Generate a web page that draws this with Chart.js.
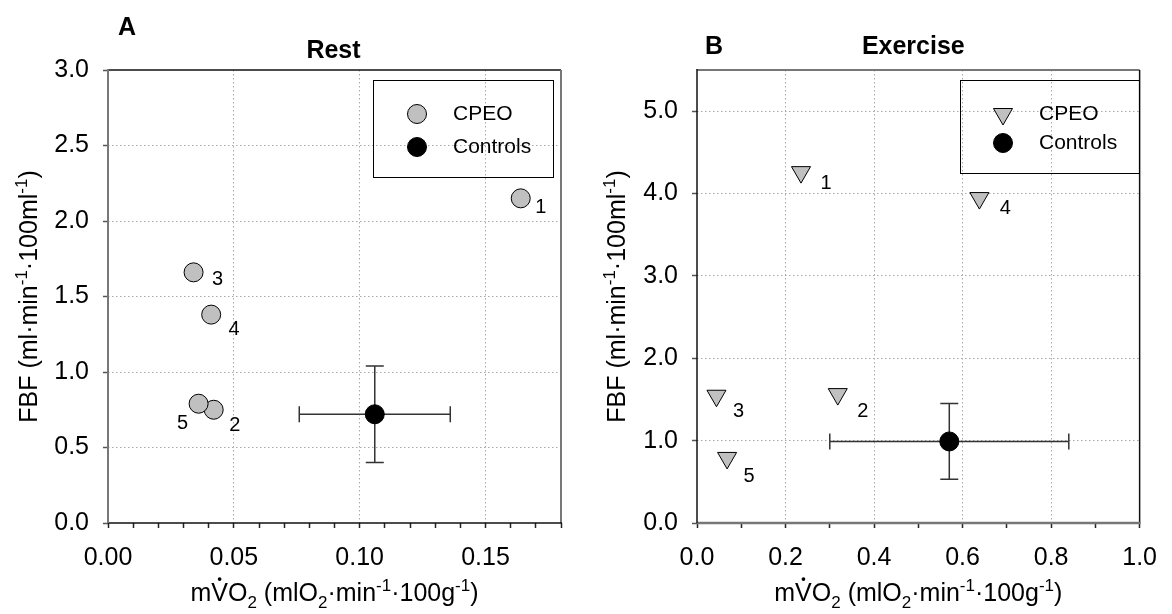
<!DOCTYPE html>
<html>
<head>
<meta charset="utf-8">
<script src="https://cdn.jsdelivr.net/npm/chart.js@4.4.0/dist/chart.umd.min.js"></script>
<style>
  html, body { margin: 0; padding: 0; background: #fff; }
  #wrap { position: relative; width: 1172px; height: 614px; }
  .pane { position: absolute; top: 0; width: 586px; height: 614px; }
</style>
</head>
<body>
<div id="wrap">
  <div class="pane" style="left:0"><canvas id="rest" width="586" height="614"></canvas></div>
  <div class="pane" style="left:586px"><canvas id="exercise" width="586" height="614"></canvas></div>
</div>
<script>
const FONT = '"Liberation Sans", Arial, Helvetica, sans-serif';

// CPEO patients 1..5
const patientIds = ['1', '2', '3', '4', '5'];
const restVO2 = [0.164, 0.042, 0.034, 0.041, 0.036];
const restFBF = [2.15, 0.75, 1.66, 1.38, 0.79];
const exVO2 = [0.235, 0.318, 0.044, 0.638, 0.068];
const exFBF = [4.26, 1.565, 1.545, 3.945, 0.79];

// controls: mean and error (x = mVO2, y = FBF)
const ctlRest = [0.106, 0.72];
const ctlRestErr = [0.030, 0.32];
const ctlEx = [0.57, 0.99];
const ctlExErr = [0.27, 0.46];

// axis ranges
const restXRange = [0, 0.18], restYRange = [0, 3.0];
const exXRange = [0, 1.0], exYRange = [0, 5.5];

// label placement next to each patient marker (pixels)
const restLabelOffsets = [[20, 9], [21, 16], [24, 7], [23, 15], [-16, 20]];
const exLabelOffsets = [[25, 11], [25, 17], [22, 16], [26, 10], [22, 19]];

const xTitle = [{t: 'm'}, {t: 'V', dot: true}, {t: 'O'}, {t: '2', sub: true}, {t: ' (mlO'}, {t: '2', sub: true},
  {t: '\u00b7min'}, {t: '-1', sup: true}, {t: '\u00b7100g'}, {t: '-1', sup: true}, {t: ')'}];
const yTitle = [{t: 'FBF (ml\u00b7min'}, {t: '-1', sup: true}, {t: '\u00b7100ml'}, {t: '-1', sup: true}, {t: ')'}];

function drawRich(ctx, parts, cx, cy, size, rotate) {
  const small = Math.round(size * 0.68);
  ctx.save();
  ctx.translate(cx, cy);
  if (rotate) ctx.rotate(-Math.PI / 2);
  let w = 0;
  parts.forEach(p => {
    ctx.font = (p.sub || p.sup ? small : size) + 'px ' + FONT;
    w += ctx.measureText(p.t).width;
  });
  let x = -w / 2;
  ctx.fillStyle = '#000';
  ctx.textAlign = 'left';
  ctx.textBaseline = 'alphabetic';
  parts.forEach(p => {
    const sz = p.sub || p.sup ? small : size;
    ctx.font = sz + 'px ' + FONT;
    const dy = p.sub ? size * 0.28 : (p.sup ? -size * 0.42 : 0);
    ctx.fillText(p.t, x, dy);
    const tw = ctx.measureText(p.t).width;
    if (p.dot) {
      ctx.beginPath();
      ctx.arc(x + tw / 2, -size * 0.88, size * 0.075, 0, Math.PI * 2);
      ctx.fill();
    }
    x += tw;
  });
  ctx.restore();
}

function marker(ctx, style, x, y, r, fill) {
  ctx.beginPath();
  if (style === 'triangle') {
    // pointing down
    for (let k = 0; k < 3; k++) {
      const a = Math.PI + k * 2 * Math.PI / 3;
      const px = x + Math.sin(a) * r, py = y - Math.cos(a) * r;
      if (k === 0) ctx.moveTo(px, py); else ctx.lineTo(px, py);
    }
    ctx.closePath();
  } else {
    ctx.arc(x, y, r, 0, Math.PI * 2);
  }
  ctx.fillStyle = fill;
  ctx.fill();
  ctx.lineWidth = 1;
  ctx.strokeStyle = '#000';
  ctx.stroke();
}

function makePanel(id, cfg) {
  const isMajor = v => Math.abs(v / cfg.xMajor - Math.round(v / cfg.xMajor)) < 1e-6;

  const decor = {
    id: 'decor_' + id,
    beforeDatasetsDraw(chart) {
      const {ctx, scales: {x, y}} = chart;
      const cx = x.getPixelForValue(cfg.ctl[0]), cy = y.getPixelForValue(cfg.ctl[1]);
      const x0 = x.getPixelForValue(cfg.ctl[0] - cfg.ctlErr[0]), x1 = x.getPixelForValue(cfg.ctl[0] + cfg.ctlErr[0]);
      const y0 = y.getPixelForValue(cfg.ctl[1] - cfg.ctlErr[1]), y1 = y.getPixelForValue(cfg.ctl[1] + cfg.ctlErr[1]);
      ctx.save();
      ctx.strokeStyle = '#333';
      ctx.lineWidth = 1.5;
      ctx.beginPath();
      ctx.moveTo(x0, cy); ctx.lineTo(x1, cy);
      ctx.moveTo(x0, cy - 8); ctx.lineTo(x0, cy + 8);
      ctx.moveTo(x1, cy - 8); ctx.lineTo(x1, cy + 8);
      ctx.moveTo(cx, y0); ctx.lineTo(cx, y1);
      ctx.moveTo(cx - 9, y0); ctx.lineTo(cx + 9, y0);
      ctx.moveTo(cx - 9, y1); ctx.lineTo(cx + 9, y1);
      ctx.stroke();
      ctx.restore();
    },
    afterDraw(chart) {
      const {ctx, chartArea: a} = chart;
      ctx.save();
      // frame
      const side = (x1, y1, x2, y2, c, w) => {
        ctx.beginPath(); ctx.strokeStyle = c; ctx.lineWidth = w;
        ctx.moveTo(x1, y1); ctx.lineTo(x2, y2); ctx.stroke();
      };
      const f = cfg.frame;
      side(a.left, a.top, a.right, a.top, f.top[0], f.top[1]);
      side(a.right, a.top, a.right, a.bottom, f.right[0], f.right[1]);
      side(a.left, a.bottom, a.right + 1, a.bottom, f.bottom[0], f.bottom[1]);
      side(a.left, a.top - 1, a.left, a.bottom, f.left[0], f.left[1]);

      // panel title and letter
      ctx.fillStyle = '#000';
      ctx.textAlign = 'center';
      ctx.textBaseline = 'middle';
      ctx.font = 'bold 25px ' + FONT;
      ctx.fillText(cfg.title, (a.left + a.right) / 2 + cfg.titleDx, cfg.titleY);
      ctx.font = 'bold 25px ' + FONT;
      ctx.fillText(cfg.letter, cfg.letterPos[0], cfg.letterPos[1]);

      // axis titles
      drawRich(ctx, xTitle, (a.left + a.right) / 2, 601, 25, false);
      drawRich(ctx, yTitle, cfg.yTitleX, (a.top + a.bottom) / 2, 25, true);

      // patient numbers
      const meta = chart.getDatasetMeta(0);
      ctx.font = '20px ' + FONT;
      ctx.textAlign = 'center';
      ctx.textBaseline = 'middle';
      ctx.fillStyle = '#000';
      meta.data.forEach((pt, i) => {
        ctx.fillText(patientIds[i], pt.x + cfg.labelOffsets[i][0], pt.y + cfg.labelOffsets[i][1]);
      });

      // legend
      const L = cfg.legend;
      ctx.lineWidth = 1;
      ctx.strokeStyle = '#000';
      ctx.strokeRect(L.box[0] + 0.5, L.box[1] + 0.5, L.box[2], L.box[3]);
      marker(ctx, cfg.marker, L.mx, L.rows[0], cfg.markerR, '#c0c0c0');
      marker(ctx, 'circle', L.mx, L.rows[1], 9.5, '#000');
      ctx.font = '21px ' + FONT;
      ctx.textAlign = 'left';
      ctx.fillStyle = '#000';
      chart.data.datasets.forEach((ds, i) => ctx.fillText(ds.label, L.tx, L.rows[i]));
      ctx.restore();
    }
  };

  return new Chart(document.getElementById(id), {
    type: 'scatter',
    data: {
      datasets: [
        {
          label: 'CPEO',
          data: cfg.xs.map((v, i) => ({x: v, y: cfg.ys[i]})),
          pointStyle: cfg.marker,
          rotation: cfg.marker === 'triangle' ? 180 : 0,
          pointRadius: cfg.markerR,
          backgroundColor: '#c0c0c0',
          borderColor: '#000',
          borderWidth: 1
        },
        {
          label: 'Controls',
          data: [{x: cfg.ctl[0], y: cfg.ctl[1]}],
          pointStyle: 'circle',
          pointRadius: 9.5,
          backgroundColor: '#000',
          borderColor: '#000',
          borderWidth: 1
        }
      ]
    },
    options: {
      responsive: false,
      animation: false,
      events: [],
      layout: {padding: {top: 70, right: cfg.padRight, left: 0, bottom: 0}},
      plugins: {legend: {display: false}, tooltip: {enabled: false}},
      scales: {
        x: {
          type: 'linear',
          min: cfg.xRange[0], max: cfg.xRange[1],
          afterFit: s => { s.height = 91; },
          ticks: {
            stepSize: cfg.xMinor,
            autoSkip: false,
            maxRotation: 0,
            includeBounds: false,
            padding: 15,
            color: '#000',
            font: {family: FONT, size: 25},
            callback: v => isMajor(v) ? v.toFixed(cfg.xDec) : ''
          },
          grid: {
            color: c => (c.tick && isMajor(c.tick.value) && c.tick.value > cfg.xRange[0] + 1e-9 && c.tick.value < cfg.xRange[1] - 1e-9) ? '#a8a8a8' : 'rgba(0,0,0,0)',
            lineWidth: 1,
            tickLength: 5,
            tickColor: '#222',
            tickWidth: 1.5
          },
          border: {display: false, dash: [1.5, 2.5]}
        },
        y: {
          type: 'linear',
          min: cfg.yRange[0], max: cfg.yRange[1],
          afterFit: s => { s.width = cfg.leftW; },
          ticks: {
            stepSize: cfg.yStep,
            includeBounds: false,
            padding: 14,
            color: '#000',
            font: {family: FONT, size: 25},
            callback: v => v.toFixed(1)
          },
          grid: {
            color: c => (c.tick && c.tick.value > cfg.yRange[0] + 1e-9 && c.tick.value < cfg.yRange[1] - 1e-9) ? '#a8a8a8' : 'rgba(0,0,0,0)',
            lineWidth: 1,
            tickLength: 5,
            tickColor: '#555',
            tickWidth: 1.5
          },
          border: {display: false, dash: [1.5, 2.5]}
        }
      }
    },
    plugins: [decor]
  });
}

makePanel('rest', {
  xs: restVO2, ys: restFBF, ctl: ctlRest, ctlErr: ctlRestErr,
  xRange: restXRange, yRange: restYRange, xMinor: 0.01, xMajor: 0.05, xDec: 2, yStep: 0.5,
  marker: 'circle', markerR: 9.5,
  leftW: 108, padRight: 25,
  title: 'Rest', titleDx: -1, titleY: 51, letter: 'A', letterPos: [127, 28],
  yTitleX: 37,
  labelOffsets: restLabelOffsets,
  legend: {box: [373, 80, 180, 97], mx: 417, tx: 453, rows: [114, 147]},
  frame: {top: ['#111', 1.5], right: ['#777', 2], bottom: ['#111', 1.5], left: ['#777', 2]}
});

makePanel('exercise', {
  xs: exVO2, ys: exFBF, ctl: ctlEx, ctlErr: ctlExErr,
  xRange: exXRange, yRange: exYRange, xMinor: 0.1, xMajor: 0.2, xDec: 1, yStep: 1,
  marker: 'triangle', markerR: 11,
  leftW: 111, padRight: 21,
  title: 'Exercise', titleDx: -5, titleY: 47, letter: 'B', letterPos: [128, 47],
  yTitleX: 39,
  labelOffsets: exLabelOffsets,
  legend: {box: [374, 80, 179, 93], mx: 417, tx: 453, rows: [114, 143]},
  frame: {top: ['#777', 2], right: ['#111', 1.5], bottom: ['#777', 2.5], left: ['#111', 1.5]}
});
</script>
</body>
</html>
